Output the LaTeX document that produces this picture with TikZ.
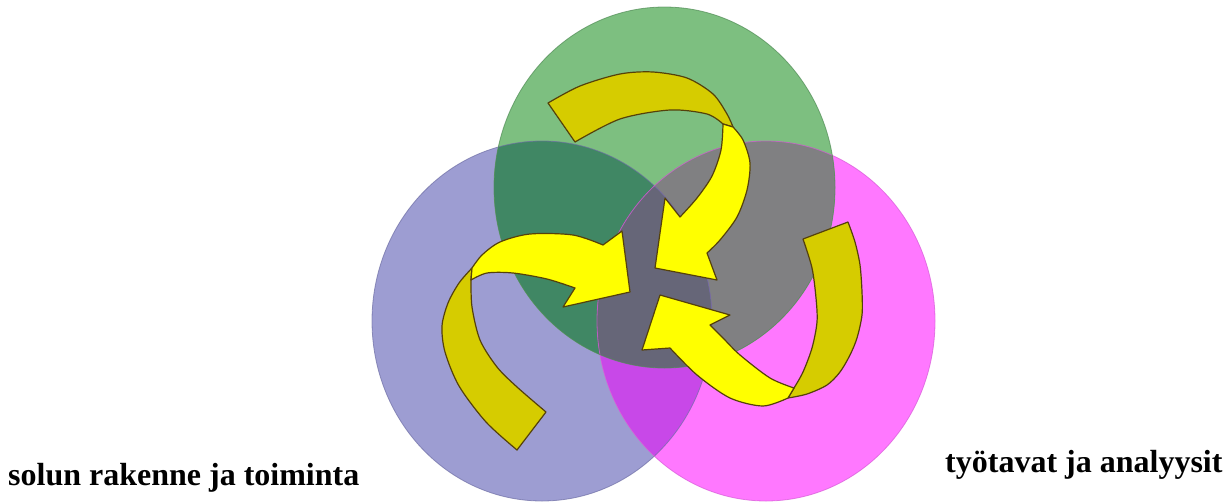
\documentclass[tikz,border=0pt]{standalone}
\usepackage{fontspec}
\setmainfont{Liberation Serif}
\definecolor{gOnly}{RGB}{125,191,128}
\definecolor{bOnly}{RGB}{157,157,210}
\definecolor{mOnly}{RGB}{255,120,255}
\definecolor{gbCol}{RGB}{64,135,100}
\definecolor{gmCol}{RGB}{128,128,130}
\definecolor{bmCol}{RGB}{200,72,232}
\definecolor{gbmCol}{RGB}{102,102,120}
\definecolor{gLine}{RGB}{80,140,85}
\definecolor{bLine}{RGB}{110,110,165}
\definecolor{mLine}{RGB}{215,90,215}
\definecolor{brightY}{RGB}{255,255,0}
\definecolor{darkY}{RGB}{214,204,0}
\definecolor{arrowLine}{RGB}{85,65,10}
\tikzset{
  ribbonfront/.style={fill=brightY, draw=arrowLine, line width=1.2pt, line join=round},
  ribbonback/.style={fill=darkY, draw=arrowLine, line width=1.2pt, line join=round},
  lbl/.style={font=\fontsize{32}{38}\selectfont\bfseries, inner sep=0pt, anchor=base west}
}
\begin{document}
\begin{tikzpicture}[x=1pt,y=-1pt]
\useasboundingbox (0,0) rectangle (1230,501);
\fill[white] (0,0) rectangle (1230,501);
% single-circle fills
\def\green{(664.5,187.5) ellipse [x radius=170.5, y radius=180.5]}
\def\blue{(542,321) ellipse [x radius=170, y radius=180]}
\def\mag{(766,321) ellipse [x radius=169, y radius=180]}
\fill[bOnly] \blue;
\fill[mOnly] \mag;
\fill[gOnly] \green;
% pairwise overlaps
\begin{scope}\clip \green; \fill[gbCol] \blue; \end{scope}
\begin{scope}\clip \green; \fill[gmCol] \mag; \end{scope}
\begin{scope}\clip \blue; \fill[bmCol] \mag; \end{scope}
% triple overlap
\begin{scope}\clip \green; \clip \blue; \fill[gbmCol] \mag; \end{scope}
% outlines
\draw[bLine, line width=0.8pt, opacity=0.7] \blue;
\draw[mLine, line width=0.8pt, opacity=0.7] \mag;
\draw[gLine, line width=0.8pt, opacity=0.7] \green;
% top arrow
\path[ribbonback] (548,103) -- plot[smooth] coordinates {(548,103) (580,86) (620,74) (653,72) (687,78) (713,94) (727,114) (733,127)}
  -- plot[smooth] coordinates {(723,124) (707,114) (670,110) (620,119) (575,142)} -- cycle;
\path[ribbonfront] (723,124) -- plot[smooth] coordinates {(733,127) (743,140) (750,163) (747,190) (737,217) (720,240) (707,253)}
  -- (717,280) -- (655,268) -- (665,198) -- (680,217)
  -- plot[smooth] coordinates {(680,217) (697,198) (712,176) (721,150) (723,124)} -- cycle;
% left arrow
\path[ribbonback] (472,268) -- plot[smooth] coordinates {(472,268) (459,283) (448,303) (442,326) (445,352) (459,386) (486,422) (517,450)}
  -- (546,412) -- plot[smooth] coordinates {(546,412) (517,387) (497,367) (480,340) (472,307) (471,280)} -- cycle;
\path[ribbonfront] (472,268) -- plot[smooth] coordinates {(472,268) (482,255) (500,242) (530,234) (573,235) (603,245)}
  -- (622,231) -- (630,292) -- (563,307) -- (575,288)
  -- plot[smooth] coordinates {(575,288) (547,279) (513,273) (487,273) (471,280)} -- cycle;
% right arrow
\path[ribbonback] (848,222) -- plot[smooth] coordinates {(848,222) (855,242) (860,265) (862,292) (862,315) (857,338) (850,355) (840,372) (827,385) (807,394) (788,398)}
  -- (794,388) -- plot[smooth] coordinates {(794,388) (803,372) (812,348) (817,322) (816,298) (812,268) (803,239)} -- cycle;
\path[ribbonfront] (794,388) -- plot[smooth] coordinates {(794,388) (770,378) (740,355) (723,338) (710,325)}
  -- (730,315) -- (660,295) -- (642,350) -- (670,348)
  -- plot[smooth] coordinates {(670,348) (697,375) (730,398) (763,406) (788,398)} -- cycle;
% labels
\node[lbl] (solu) at (8,485) {solun rakenne ja toiminta};
\node[lbl] (tyo) at (945,472) {työtavat ja analyysit};
\end{tikzpicture}
\end{document}
